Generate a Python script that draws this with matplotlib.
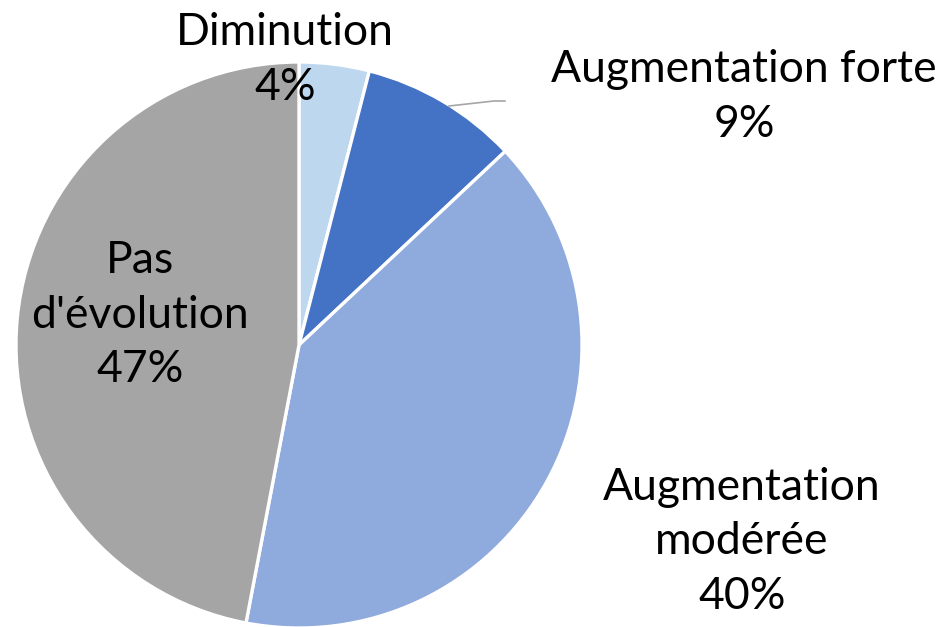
import matplotlib.pyplot as plt

# Répartition des réponses
categories = ["Diminution", "Augmentation forte", "Augmentation\nmodérée", "Pas\nd'évolution"]
values = [4, 9, 40, 47]
colors = ["#BDD7EE", "#4472C4", "#8FAADC", "#A5A5A5"]

W, H = 942, 627
fig = plt.figure(figsize=(W / 100, H / 100), dpi=100)
ax = fig.add_axes([0, 0, 1, 1])

cx, cy, r = 299, H - 345, 283
ax.pie(values, colors=colors, startangle=90, counterclock=False,
       center=(cx, cy), radius=r, frame=True,
       wedgeprops=dict(edgecolor="white", linewidth=2.4))
ax.set_xlim(0, W)
ax.set_ylim(0, H)
ax.set_aspect("equal")
ax.axis("off")

# positions des étiquettes (en pixels depuis le haut)
label_pos = [(285, 60), (744, 97), (742, 542), (140, 315)]
font = dict(family="Lato", fontsize=32, color="black", ha="center", va="center",
            linespacing=1.42)
for cat, v, (x, y) in zip(categories, values, label_pos):
    ax.text(x, H - y, f"{cat}\n{v}%", **font)

# trait de rappel vers « Augmentation forte »
ax.plot([449, 494, 505], [H - 106, H - 101, H - 101], color="#A6A6A6", linewidth=1.2)

fig.savefig("out.png", dpi=100)
